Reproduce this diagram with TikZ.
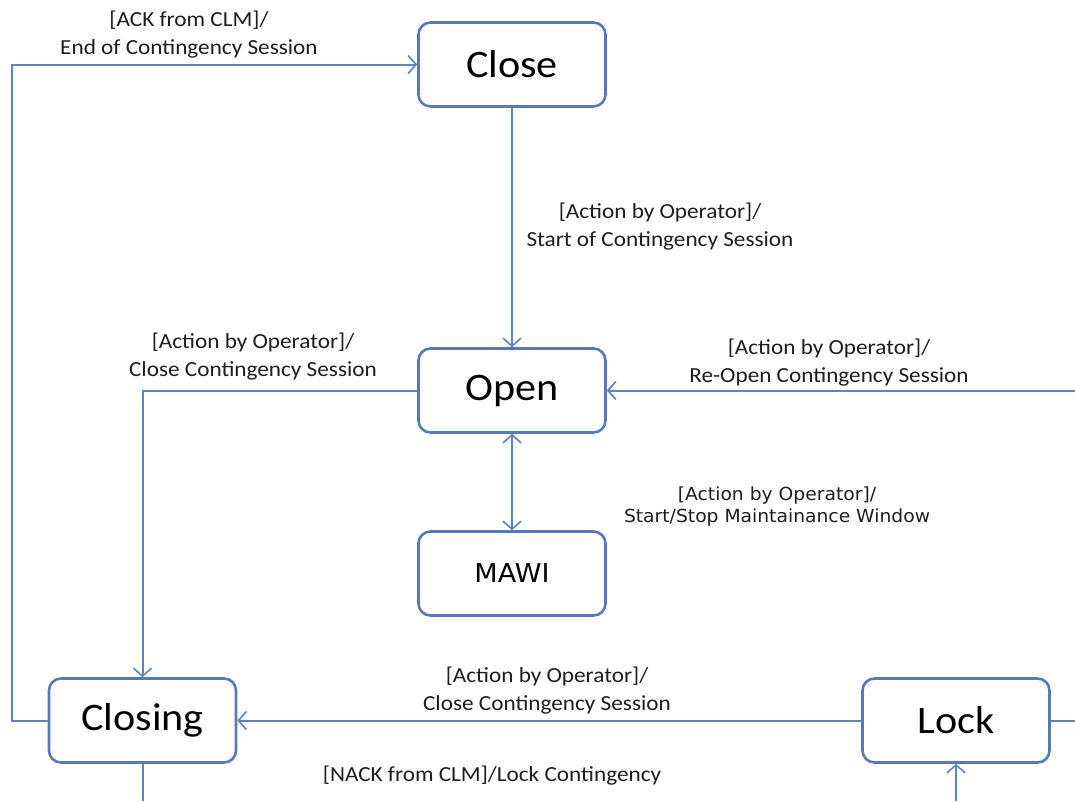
\documentclass[tikz,border=0pt]{standalone}
\usepackage{fontspec}
\setmainfont{Carlito}[FakeStretch=1.08]
\newfontfamily\verd{DejaVu Sans}[FakeStretch=1.04]
\usetikzlibrary{arrows.meta}
\definecolor{lineblue}{RGB}{93,132,194}
\definecolor{boxblue}{RGB}{86,122,184}
\definecolor{txt}{RGB}{30,30,30}
\begin{document}
\begin{tikzpicture}[x=1pt,y=-1pt,
  state/.style={draw=boxblue, line width=2.6pt, rounded corners=12pt, fill=white,
    minimum width=187pt, minimum height=84pt, inner sep=0pt,
    font=\fontsize{39}{44}\selectfont, text=black},
  lbl/.style={align=center, font=\fontsize{21.5}{28}\selectfont, text=txt, inner sep=0pt},
  conn/.style={draw=lineblue, line width=2pt},
  tip/.tip={Straight Barb[length=8pt,width=18pt,line width=1.6pt]},
  arr/.style={conn, -tip},
]
\fill[white] (0,0) rectangle (1075,801);
\useasboundingbox (0,0) rectangle (1075,801);

\node[state] (close) at (512,64.5) {Close};
\node[state] (open) at (512,390.5) {Open};
\node[state, font=\verd\fontsize{26}{32}\selectfont] (mawi) at (512,573.5) {MAWI};
\node[state] (closing) at (142.5,720.5) {Closing};
\node[state] (lock) at (956,720.5) {Lock};

\coordinate (lc) at (12,64.5);
\coordinate (ro) at (1075,390.5);
\coordinate (lr) at (1075,720.5);
\coordinate (cb) at (142.5,801);
\coordinate (lb) at (956,801);

\draw[arr] (closing.west) -| (lc) -- (close.west);
\draw[arr] (close.south) -- (open.north);
\draw[arr] (open.west) -| (closing.north);
\draw[conn, tip-tip] (open.south) -- (mawi.north);
\draw[arr] (ro) -- (open.east);
\draw[arr] (lock.west) -- (closing.east);
\draw[conn] (lock.east) -- (lr);
\draw[conn] (closing.south) -- (cb);
\draw[arr] (lb) -- (lock.south);

\node[lbl] (l1) at (189,35) {[ACK from CLM]/\\End of Contingency Session};
\node[lbl] (l2) at (660,227) {[Action by Operator]/\\Start of Contingency Session};
\node[lbl] (l3) at (253,357) {[Action by Operator]/\\Close Contingency Session};
\node[lbl] (l4) at (829,363) {[Action by Operator]/\\Re-Open Contingency Session};
\node[lbl, font=\verd\fontsize{18}{22}\selectfont] (l5) at (777,507) {[Action by Operator]/\\Start/Stop Maintainance Window};
\node[lbl] (l6) at (547,691) {[Action by Operator]/\\Close Contingency Session};
\node[lbl] (l7) at (492,776) {[NACK from CLM]/Lock Contingency};
\end{tikzpicture}
\end{document}
